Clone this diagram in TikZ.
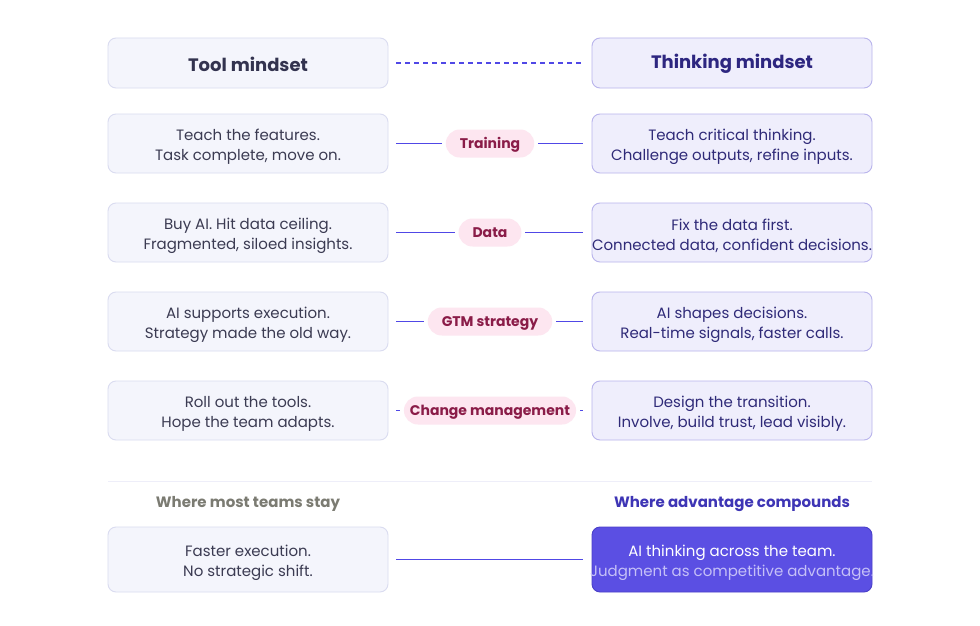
\documentclass[tikz,border=0pt]{standalone}
\usepackage{fontspec}
\setmainfont{Poppins}
\definecolor{leftfill}{HTML}{F4F5FC}
\definecolor{leftdraw}{HTML}{DADCF0}
\definecolor{rightfill}{HTML}{EFEEFC}
\definecolor{rightdraw}{HTML}{B9B4EC}
\definecolor{lefttext}{HTML}{3B3B52}
\definecolor{righttext}{HTML}{2F2A78}
\definecolor{toolhead}{HTML}{33334F}
\definecolor{thinkhead}{HTML}{2D2680}
\definecolor{pillfill}{HTML}{FDE6F0}
\definecolor{pilltext}{HTML}{8A1C48}
\definecolor{conncol}{HTML}{5048E6}
\definecolor{finalfill}{HTML}{5B4FE3}
\definecolor{finaldraw}{HTML}{4A40C8}
\definecolor{finalsub}{HTML}{C5C0F7}
\definecolor{grayhead}{HTML}{7B7B72}
\definecolor{advhead}{HTML}{3E35B5}
\definecolor{sepcol}{HTML}{EEEEF9}
\tikzset{
  basebox/.style={rounded corners=8pt, line width=0.9pt, minimum width=280pt,
    minimum height=59pt, inner sep=0pt},
  lbox/.style={basebox, draw=leftdraw, fill=leftfill},
  rbox/.style={basebox, draw=rightdraw, fill=rightfill},
  boxtext/.style={align=center, inner sep=0pt, yshift=-3pt, font=\fontsize{15}{20}\selectfont},
  ltext/.style={boxtext, text=lefttext},
  rtext/.style={boxtext, text=righttext},
  headtext/.style={inner sep=0pt, yshift=-1pt, font=\fontsize{18}{22}\selectfont\bfseries},
  pill/.style={fill=pillfill, text=pilltext, rounded corners=14pt, minimum height=28pt,
    text height=10pt, text depth=0.5pt,
    inner xsep=14pt, inner ysep=0pt, outer sep=4pt, font=\fontsize{14}{16}\selectfont\bfseries},
  connbase/.style={draw=conncol, line width=1.5pt},
  conn/.style={connbase, shorten <=8pt, shorten >=9pt},
  connl/.style={connbase, shorten <=8pt},
  connr/.style={connbase, shorten >=9pt},
  sectionhead/.style={font=\fontsize{15}{18}\selectfont\bfseries}
}
\begin{document}
\begin{tikzpicture}[x=1pt,y=-1pt]
\useasboundingbox[fill=white] (0,0) rectangle (980,626);
% header row
\node[lbox, minimum height=50pt] (H1) at (248,63) {};
\node[headtext, text=toolhead] (H1t) at (H1) {Tool mindset};
\node[rbox, minimum height=50pt] (H2) at (732,63) {};
\node[headtext, text=thinkhead] (H2t) at (H2) {Thinking mindset};
\draw[conn, dash pattern=on 5pt off 4pt] (H1) -- (H2);
% row: training
\node[lbox] (L2) at (248,143.5) {};
\node[ltext] (L2t) at (L2) {Teach the features.\\Task complete, move on.};
\node[rbox] (R2) at (732,143.5) {};
\node[rtext] (R2t) at (R2) {Teach critical thinking.\\Challenge outputs, refine inputs.};
\node[pill] (P2) at (490,143.5) {Training};
\draw[connl] (L2) -- (P2);
\draw[connr] (P2) -- (R2);
% row: data
\node[lbox] (L3) at (248,232.5) {};
\node[ltext] (L3t) at (L3) {Buy AI. Hit data ceiling.\\Fragmented, siloed insights.};
\node[rbox] (R3) at (732,232.5) {};
\node[rtext] (R3t) at (R3) {Fix the data first.\\Connected data, confident decisions.};
\node[pill] (P3) at (490,232.5) {Data};
\draw[connl] (L3) -- (P3);
\draw[connr] (P3) -- (R3);
% row: GTM
\node[lbox] (L4) at (248,321.5) {};
\node[ltext] (L4t) at (L4) {AI supports execution.\\Strategy made the old way.};
\node[rbox] (R4) at (732,321.5) {};
\node[rtext] (R4t) at (R4) {AI shapes decisions.\\Real-time signals, faster calls.};
\node[pill] (P4) at (490,321.5) {GTM strategy};
\draw[connl] (L4) -- (P4);
\draw[connr] (P4) -- (R4);
% row: change management
\node[lbox] (L5) at (248,410.5) {};
\node[ltext] (L5t) at (L5) {Roll out the tools.\\Hope the team adapts.};
\node[rbox] (R5) at (732,410.5) {};
\node[rtext] (R5t) at (R5) {Design the transition.\\Involve, build trust, lead visibly.};
\node[pill, inner xsep=6pt] (P5) at (490,410.5) {Change management};
\draw[connl] (L5) -- (P5);
\draw[connr] (P5) -- (R5);
% separator
\coordinate (S1) at (108,481);
\coordinate (S2) at (872,481);
\draw[sepcol, line width=1pt] (S1) -- (S2);
% bottom
\node[sectionhead, text=grayhead] (T1) at (248,504) {Where most teams stay};
\node[sectionhead, text=advhead] (T2) at (732,504) {Where advantage compounds};
\node[lbox, minimum height=65pt] (B1) at (248,559.5) {};
\node[ltext] (B1t) at (B1) {Faster execution.\\No strategic shift.};
\node[basebox, minimum height=65pt, draw=finaldraw, fill=finalfill] (B2) at (732,559.5) {};
\node[boxtext, text=white] (B2t) at (B2)
  {AI thinking across the team.\\\textcolor{finalsub}{Judgment as competitive advantage.}};
\draw[conn] (B1) -- (B2);
\end{tikzpicture}
\end{document}
